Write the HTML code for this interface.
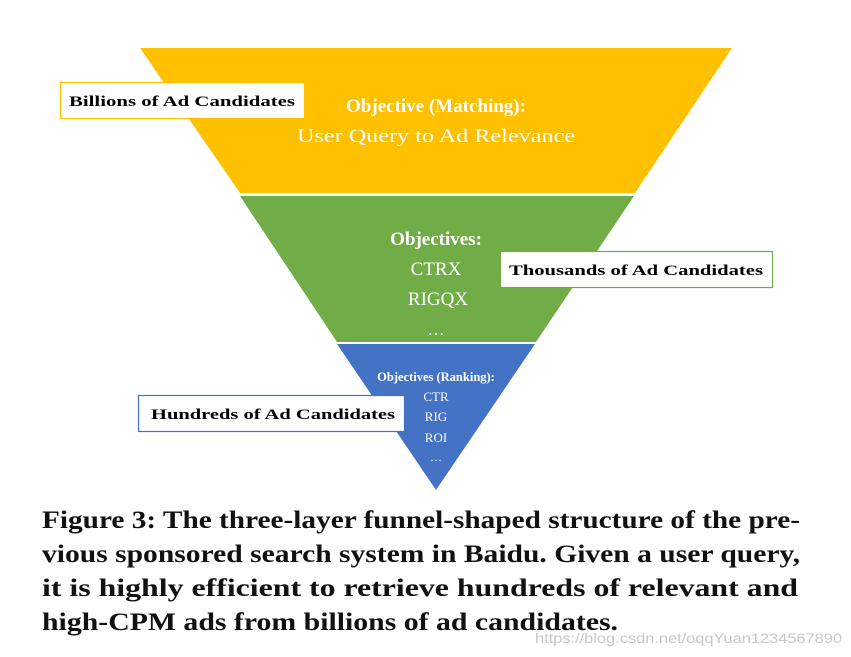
<!DOCTYPE html>
<html><head><meta charset="utf-8"><style>
html,body{margin:0;padding:0;background:#fff;}
svg{display:block;}
</style></head><body>
<svg width="851" height="657" viewBox="0 0 851 657" xmlns="http://www.w3.org/2000/svg">
<polygon points="140,48 732,48 635,193 240,193" fill="#FFC000"/>
<polygon points="240,196 634,196 536,342 337,342" fill="#70AD47"/>
<polygon points="337,344 535,344 436,490" fill="#4472C4"/>
<g font-family="Liberation Serif, serif" fill="#fff" text-anchor="middle">
<text x="436" y="112" font-size="19" font-weight="bold">Objective (Matching):</text>
<text x="436" y="142" font-size="19" textLength="278" lengthAdjust="spacingAndGlyphs">User Query to Ad Relevance</text>
<text x="436" y="245" font-size="19" font-weight="bold">Objectives:</text>
<text x="436" y="275" font-size="19">CTRX</text>
<text x="438" y="305" font-size="19">RIGQX</text>
<text x="436" y="335" font-size="17">…</text>
<text x="436" y="381" font-size="12.5" font-weight="bold">Objectives (Ranking):</text>
<text x="436" y="401" font-size="13">CTR</text>
<text x="436" y="421" font-size="13">RIG</text>
<text x="436" y="442" font-size="13">ROI</text>
<text x="436" y="461" font-size="12">…</text>
</g>
<g font-family="Liberation Serif, serif" font-weight="bold" font-size="15" fill="#000">
<rect x="60.5" y="82.5" width="244" height="36" fill="#fff" stroke="#FFC000" stroke-width="1.2"/>
<text x="69" y="106" textLength="226" lengthAdjust="spacingAndGlyphs">Billions of Ad Candidates</text>
<rect x="500.5" y="251.5" width="272" height="36" fill="#fff" stroke="#70AD47" stroke-width="1.2"/>
<text x="509" y="275" textLength="254" lengthAdjust="spacingAndGlyphs">Thousands of Ad Candidates</text>
<rect x="138.5" y="395.5" width="266" height="36" fill="#fff" stroke="#4472C4" stroke-width="1.2"/>
<text x="151" y="419" textLength="244" lengthAdjust="spacingAndGlyphs">Hundreds of Ad Candidates</text>
</g>
<g font-family="Liberation Serif, serif" font-weight="bold" font-size="25" fill="#111">
<text x="42" y="528" textLength="758" lengthAdjust="spacingAndGlyphs">Figure 3: The three-layer funnel-shaped structure of the pre-</text>
<text x="42" y="562" textLength="758" lengthAdjust="spacingAndGlyphs">vious sponsored search system in Baidu. Given a user query,</text>
<text x="42" y="596" textLength="756" lengthAdjust="spacingAndGlyphs">it is highly efficient to retrieve hundreds of relevant and</text>
<text x="42" y="630" textLength="576" lengthAdjust="spacingAndGlyphs">high-CPM ads from billions of ad candidates.</text>
</g>
<text x="535" y="643" font-family="Liberation Sans, sans-serif" font-size="14" fill="#c8c8c8" textLength="307" lengthAdjust="spacingAndGlyphs">https://blog.csdn.net/oqqYuan1234567890</text>
</svg>
</body></html>
